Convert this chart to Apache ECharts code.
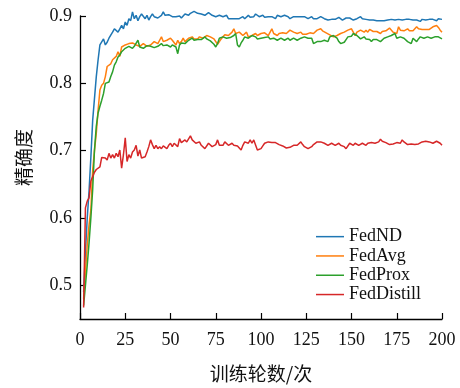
<!DOCTYPE html>
<html>
<head>
<meta charset="utf-8">
<script src="https://cdn.jsdelivr.net/npm/echarts@6/dist/echarts.min.js"></script>
<style>html,body{margin:0;padding:0;background:#fff}#c{width:460px;height:388px}</style>
</head>
<body>
<div id="c"></div>
<script>
const seriesNames = ['FedND', 'FedAvg', 'FedProx', 'FedDistill'];
const xTicks = [0, 25, 50, 75, 100, 125, 150, 175, 200];
const yTicks = [0.5, 0.6, 0.7, 0.8, 0.9];
const firstRound = 2;

const fedND = [
  0.49,0.55,0.60,0.64,0.69,0.745,0.745,0.81,
  0.835,0.857,0.858,0.866,0.857,0.861,0.867,0.869,0.876,0.881,
  0.879,0.876,0.881,0.886,0.881,0.891,0.886,0.896,0.893,0.906,
  0.896,0.901,0.893,0.899,0.903,0.903,0.896,0.901,0.894,0.899,
  0.903,0.899,0.901,0.897,0.899,0.901,0.906,0.901,0.899,0.902,
  0.903,0.899,0.901,0.899,0.899,0.900,0.897,0.896,0.903,0.901,
  0.901,0.904,0.905,0.907,0.908,0.904,0.903,0.903,0.903,0.901,
  0.901,0.905,0.905,0.901,0.899,0.899,0.901,0.901,0.899,0.899,
  0.900,0.901,0.896,0.894,0.896,0.897,0.896,0.895,0.896,0.898,
  0.899,0.896,0.897,0.901,0.898,0.896,0.899,0.903,0.901,0.899,
  0.900,0.901,0.898,0.896,0.899,0.901,0.899,0.899,0.896,0.901,
  0.900,0.899,0.900,0.901,0.903,0.899,0.896,0.897,0.899,0.898,
  0.899,0.898,0.899,0.897,0.899,0.897,0.896,0.898,0.899,0.896,
  0.897,0.896,0.897,0.899,0.897,0.896,0.895,0.894,0.894,0.895,
  0.894,0.895,0.896,0.898,0.899,0.894,0.896,0.897,0.899,0.897,
  0.896,0.894,0.895,0.896,0.898,0.899,0.896,0.894,0.895,0.894,
  0.894,0.893,0.894,0.893,0.893,0.892,0.893,0.892,0.893,0.894,
  0.894,0.894,0.895,0.895,0.894,0.895,0.895,0.895,0.894,0.895,
  0.895,0.896,0.895,0.895,0.894,0.895,0.894,0.893,0.892,0.895,
  0.894,0.894,0.894,0.895,0.896,0.895,0.894,0.893,0.896,0.894,
  0.895
];

const fedAvg = [
  0.48,0.52,0.56,0.59,0.612,0.671,0.70,0.726,
  0.76,0.79,0.797,0.80,0.81,0.825,0.827,0.829,0.835,0.837,
  0.84,0.847,0.840,0.854,0.852,0.857,0.855,0.859,0.857,0.860,
  0.859,0.857,0.858,0.855,0.857,0.859,0.857,0.855,0.856,0.857,
  0.859,0.862,0.860,0.859,0.864,0.869,0.862,0.863,0.864,0.866,
  0.867,0.864,0.862,0.857,0.864,0.859,0.862,0.867,0.862,0.864,
  0.867,0.866,0.869,0.866,0.864,0.866,0.869,0.868,0.867,0.869,
  0.871,0.869,0.869,0.867,0.866,0.864,0.858,0.862,0.866,0.869,
  0.872,0.874,0.871,0.873,0.876,0.881,0.874,0.875,0.876,0.874,
  0.871,0.873,0.876,0.869,0.870,0.871,0.872,0.874,0.871,0.869,
  0.874,0.876,0.875,0.874,0.871,0.869,0.881,0.874,0.876,0.871,
  0.874,0.876,0.875,0.874,0.874,0.872,0.879,0.877,0.876,0.875,
  0.874,0.875,0.876,0.873,0.871,0.873,0.874,0.875,0.876,0.874,
  0.876,0.879,0.880,0.881,0.878,0.876,0.875,0.874,0.872,0.871,
  0.869,0.870,0.871,0.873,0.874,0.875,0.876,0.878,0.879,0.880,
  0.881,0.879,0.871,0.876,0.878,0.879,0.881,0.876,0.879,0.876,
  0.880,0.881,0.877,0.878,0.877,0.876,0.874,0.877,0.879,0.878,
  0.879,0.882,0.884,0.876,0.877,0.874,0.884,0.879,0.879,0.878,
  0.879,0.881,0.878,0.876,0.878,0.879,0.884,0.881,0.879,0.880,
  0.881,0.880,0.879,0.880,0.881,0.884,0.883,0.886,0.883,0.879,
  0.876
];

const fedProx = [
  0.47,0.50,0.53,0.563,0.60,0.642,0.701,0.736,
  0.756,0.766,0.775,0.785,0.80,0.801,0.802,0.81,0.817,0.827,
  0.832,0.839,0.842,0.847,0.849,0.852,0.854,0.855,0.857,0.852,
  0.855,0.857,0.864,0.854,0.853,0.852,0.854,0.856,0.857,0.855,
  0.854,0.853,0.852,0.855,0.857,0.859,0.856,0.854,0.857,0.855,
  0.854,0.857,0.859,0.854,0.844,0.857,0.860,0.862,0.859,0.861,
  0.864,0.865,0.867,0.864,0.862,0.865,0.867,0.865,0.864,0.869,
  0.866,0.864,0.863,0.862,0.858,0.854,0.859,0.867,0.868,0.869,
  0.868,0.867,0.869,0.868,0.867,0.871,0.874,0.857,0.854,0.860,
  0.864,0.869,0.868,0.867,0.869,0.871,0.870,0.869,0.866,0.864,
  0.867,0.869,0.868,0.867,0.869,0.866,0.867,0.867,0.869,0.864,
  0.866,0.867,0.865,0.864,0.866,0.867,0.864,0.865,0.867,0.865,
  0.864,0.866,0.867,0.868,0.869,0.867,0.867,0.866,0.867,0.859,
  0.861,0.862,0.861,0.862,0.863,0.864,0.863,0.862,0.869,0.870,
  0.871,0.869,0.867,0.862,0.859,0.859,0.861,0.865,0.869,0.867,
  0.870,0.874,0.872,0.871,0.869,0.866,0.867,0.869,0.866,0.864,
  0.865,0.862,0.865,0.867,0.865,0.864,0.862,0.864,0.867,0.868,
  0.869,0.870,0.871,0.873,0.874,0.867,0.868,0.869,0.868,0.867,
  0.865,0.862,0.860,0.859,0.867,0.865,0.862,0.866,0.869,0.868,
  0.867,0.868,0.869,0.868,0.867,0.868,0.869,0.870,0.869,0.868,
  0.866
];

const fedDistill = [
  0.467,0.615,0.625,0.630,0.655,0.657,0.668,0.672,
  0.674,0.676,0.690,0.688,0.689,0.686,0.696,0.689,0.694,0.689,
  0.696,0.691,0.701,0.674,0.694,0.719,0.684,0.694,0.689,0.698,
  0.701,0.708,0.692,0.701,0.689,0.687,0.691,0.698,0.706,0.716,
  0.709,0.703,0.708,0.703,0.706,0.703,0.707,0.708,0.703,0.708,
  0.711,0.706,0.711,0.713,0.706,0.718,0.712,0.711,0.716,0.713,
  0.713,0.722,0.716,0.716,0.711,0.711,0.713,0.708,0.706,0.703,
  0.703,0.711,0.711,0.706,0.706,0.709,0.716,0.708,0.708,0.708,
  0.713,0.711,0.708,0.710,0.711,0.708,0.706,0.707,0.708,0.701,
  0.708,0.713,0.711,0.711,0.716,0.711,0.716,0.716,0.701,0.702,
  0.703,0.707,0.711,0.713,0.713,0.713,0.712,0.713,0.712,0.711,
  0.709,0.708,0.707,0.706,0.704,0.703,0.705,0.706,0.708,0.708,
  0.708,0.710,0.713,0.709,0.706,0.704,0.703,0.705,0.706,0.709,
  0.711,0.713,0.713,0.713,0.712,0.711,0.709,0.708,0.710,0.711,
  0.713,0.708,0.710,0.711,0.708,0.707,0.706,0.703,0.701,0.711,
  0.709,0.708,0.711,0.710,0.708,0.709,0.711,0.709,0.708,0.711,
  0.713,0.712,0.711,0.711,0.712,0.713,0.717,0.714,0.712,0.712,
  0.713,0.709,0.708,0.710,0.711,0.712,0.713,0.711,0.716,0.713,
  0.711,0.709,0.708,0.710,0.711,0.709,0.708,0.710,0.711,0.713,
  0.713,0.714,0.714,0.713,0.712,0.711,0.713,0.714,0.712,0.711,
  0.708
];

const colors = ['#1f77b4', '#ff7f0e', '#2ca02c', '#d62728'];
const allData = [fedND, fedAvg, fedProx, fedDistill];
const serif = 'Liberation Serif';
const cjk = 'Noto Sans CJK SC';

const chart = echarts.init(document.getElementById('c'), null, {renderer: 'canvas'});
chart.setOption({
  animation: false,
  backgroundColor: '#fff',
  grid: {left: 80, right: 18, top: 16, bottom: 69, containLabel: false},
  legend: {
    orient: 'vertical',
    left: 316, top: 227, padding: 0,
    icon: 'rect',
    itemWidth: 28, itemHeight: 1.5, itemGap: 0,
    textStyle: {fontFamily: serif, fontSize: 18, color: '#111', lineHeight: 19.3},
    data: seriesNames
  },
  xAxis: {
    type: 'value', min: 0, max: 200, interval: 25,
    name: '训练轮数/次', nameLocation: 'middle', nameGap: 45,
    nameTextStyle: {fontFamily: cjk, fontSize: 19, color: '#111'},
    axisLine: {lineStyle: {color: '#000', width: 1.3}},
    axisTick: {inside: true, length: 6, lineStyle: {color: '#000', width: 1.2}, customValues: xTicks},
    axisLabel: {fontFamily: serif, fontSize: 18, color: '#111', margin: 12, customValues: xTicks},
    splitLine: {show: false}
  },
  yAxis: {
    type: 'value', min: 0.45, max: 0.9,
    name: '精确度', nameLocation: 'middle', nameGap: 47,
    nameTextStyle: {fontFamily: cjk, fontSize: 19, color: '#111', padding: [0, 0, 0, 20]},
    axisLine: {show: true, lineStyle: {color: '#000', width: 1.3}},
    axisTick: {show: true, inside: true, length: 6, lineStyle: {color: '#000', width: 1.2}, customValues: yTicks},
    axisLabel: {fontFamily: serif, fontSize: 18, color: '#111', margin: 8, customValues: yTicks,
      formatter: v => v.toFixed(1)},
    splitLine: {show: false}
  },
  series: allData.map((d, i) => ({
    name: seriesNames[i],
    type: 'line',
    symbol: 'none',
    clip: false,
    color: colors[i],
    lineStyle: {width: 1.5, color: colors[i]},
    data: d.map((v, j) => [firstRound + j, v])
  }))
});
</script>
</body>
</html>
